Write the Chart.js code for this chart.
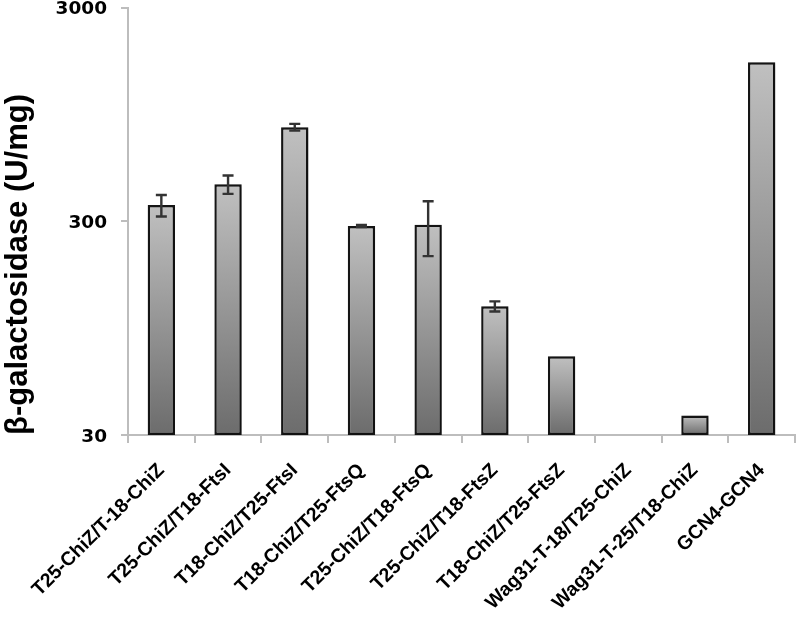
<!DOCTYPE html>
<html>
<head>
<meta charset="utf-8">
<script src="https://cdn.jsdelivr.net/npm/chart.js@4/dist/chart.umd.min.js"></script>
<style>
  html, body { margin: 0; padding: 0; background: #ffffff; }
  #wrap { width: 800px; height: 624px; }
</style>
</head>
<body>
<div id="wrap"><canvas id="c" width="800" height="624"></canvas></div>
<script>
const categories = [
  "T25-ChiZ/T-18-ChiZ", "T25-ChiZ/T18-FtsI", "T18-ChiZ/T25-FtsI", "T18-ChiZ/T25-FtsQ",
  "T25-ChiZ/T18-FtsQ", "T25-ChiZ/T18-FtsZ", "T18-ChiZ/T25-FtsZ", "Wag31-T-18/T25-ChiZ",
  "Wag31-T-25/T18-ChiZ", "GCN4-GCN4"
];
const activity = [357, 447, 826, 285, 289, 120, 70, null, 37, 1663];
const activityError = [41, 44, 30, 3, 83, 6.5, 0, 0, 0, 0];
const yTickValues = [30, 300, 3000];
const yTitle = "\u03B2-galactosidase (U/mg)";

const errorBars = {
  id: 'errorBars',
  afterDatasetsDraw(chart) {
    const ctx = chart.ctx;
    const y = chart.scales.y;
    const meta = chart.getDatasetMeta(0);
    ctx.save();
    ctx.strokeStyle = '#333333';
    ctx.lineWidth = 2.4;
    meta.data.forEach((bar, i) => {
      const v = activity[i], e = activityError[i];
      if (v == null || !e) return;
      const top = y.getPixelForValue(v + e);
      const bot = y.getPixelForValue(Math.max(v - e, 1e-6));
      const x = bar.x, cap = 5.5;
      ctx.beginPath();
      ctx.moveTo(x, top); ctx.lineTo(x, bot);
      ctx.moveTo(x - cap, top); ctx.lineTo(x + cap, top);
      ctx.moveTo(x - cap, bot); ctx.lineTo(x + cap, bot);
      ctx.stroke();
    });
    ctx.restore();
  }
};

const barShadow = {
  id: 'barShadow',
  beforeDatasetsDraw(chart) {
    const ctx = chart.ctx;
    ctx.save();
    ctx.shadowColor = 'rgba(0,0,0,0.30)';
    ctx.shadowBlur = 4;
    ctx.shadowOffsetX = 2;
    ctx.shadowOffsetY = 1;
  },
  afterDatasetsDraw(chart) {
    chart.ctx.restore();
  }
};

new Chart(document.getElementById('c'), {
  type: 'bar',
  data: {
    labels: categories,
    datasets: [{
      data: activity,
      backgroundColor(context) {
        const chart = context.chart;
        const area = chart.chartArea;
        const v = context.raw;
        if (!area || v == null) return '#9a9a9a';
        const top = chart.scales.y.getPixelForValue(v);
        const g = chart.ctx.createLinearGradient(0, top, 0, area.bottom);
        g.addColorStop(0, '#c0c0c0');
        g.addColorStop(1, '#6c6c6c');
        return g;
      },
      borderColor: '#151515',
      borderWidth: 2.4,
      borderSkipped: false,
      barPercentage: 0.41,
      categoryPercentage: 1.0
    }]
  },
  options: {
    responsive: false,
    animation: false,
    devicePixelRatio: 1,
    layout: { padding: { top: 7.5, right: 5, left: 0, bottom: 0 } },
    plugins: {
      legend: { display: false },
      tooltip: { enabled: false }
    },
    scales: {
      x: {
        grid: {
          display: true,
          drawOnChartArea: false,
          drawTicks: true,
          tickLength: 8,
          color: '#bdbdbd',
          lineWidth: 2,
          offset: true
        },
        border: { display: true, color: '#bdbdbd', width: 2 },
        ticks: {
          autoSkip: false,
          minRotation: 45,
          maxRotation: 45,
          padding: 16,
          color: '#000000',
          font: { family: '"Liberation Sans", Arial, sans-serif', weight: 'bold', size: 19.5 }
        },
        afterFit(scale) { scale.height = 189; scale.paddingLeft = 0; scale.paddingRight = 0; }
      },
      y: {
        type: 'logarithmic',
        min: 30,
        max: 3000,
        afterBuildTicks(scale) {
          scale.ticks = yTickValues.map(v => ({ value: v }));
        },
        grid: {
          display: true,
          drawOnChartArea: false,
          drawTicks: true,
          tickLength: 7,
          color: '#bdbdbd',
          lineWidth: 2
        },
        border: { display: true, color: '#bdbdbd', width: 2 },
        ticks: {
          padding: 14,
          labelOffset: 2,
          color: '#000000',
          font: { family: '"DejaVu Sans", sans-serif', weight: 'bold', size: 18.5 },
          callback(value) { return String(value); }
        },
        title: {
          display: true,
          text: yTitle,
          align: 'start',
          color: '#000000',
          padding: { top: 0, bottom: 0 },
          font: { family: '"Liberation Sans", Arial, sans-serif', weight: 'bold', size: 31 }
        },
        afterFit(scale) { scale.width = 128; scale.paddingTop = 0; scale.paddingBottom = 0; }
      }
    }
  },
  plugins: [barShadow, errorBars]
});
</script>
</body>
</html>
